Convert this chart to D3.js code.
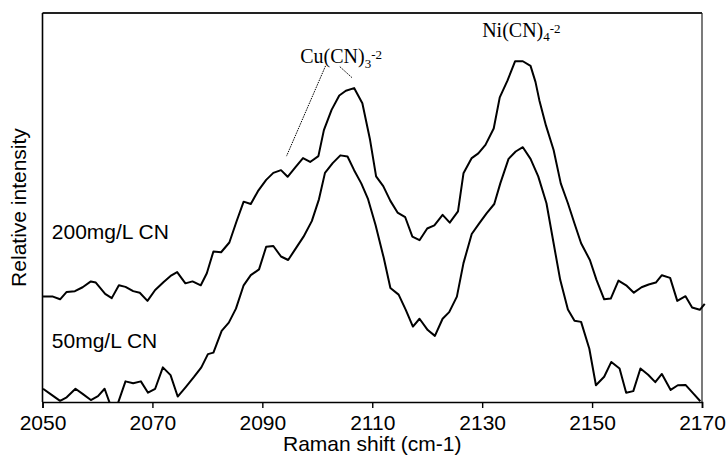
<!DOCTYPE html>
<html>
<head>
<meta charset="utf-8">
<script src="https://cdn.jsdelivr.net/npm/d3@7"></script>
<style>
html,body{margin:0;padding:0;background:#fff;}
svg{display:block;}
</style>
</head>
<body>
<svg id="chart" width="727" height="461"></svg>
<script>
// Raman shift (cm-1) and relative intensity
const shift200 = [2050.1,2051.9,2053.2,2054.4,2055.9,2057.3,2058.8,2059.7,2061.4,2062.6,2063.9,2065.1,2066.5,2067.7,2069.1,2070.5,2072.0,2073.3,2074.5,2076.0,2077.3,2078.8,2079.9,2081.1,2082.5,2084.0,2085.3,2086.6,2087.9,2089.2,2090.7,2092.0,2093.4,2094.6,2096.0,2097.4,2098.7,2100.2,2101.2,2102.6,2104.0,2105.2,2106.7,2108.2,2109.6,2110.7,2112.0,2113.3,2114.6,2116.0,2117.3,2118.6,2120.0,2121.3,2122.8,2124.1,2125.6,2126.6,2128.1,2129.3,2130.6,2132.1,2133.2,2134.6,2136.0,2137.4,2138.8,2139.7,2140.4,2141.6,2143.0,2144.3,2145.6,2146.8,2148.0,2149.6,2150.8,2152.2,2153.4,2154.8,2156.2,2157.6,2159.0,2160.3,2161.6,2162.7,2164.2,2165.5,2167.0,2168.2,2169.6,2170.5];
const int200 = [27.1,27.1,26.4,28.3,28.5,29.5,31.0,30.7,27.8,26.7,30.0,29.6,28.5,28.1,26.0,28.8,30.8,32.4,33.4,30.5,31.0,30.0,33.1,38.7,38.5,41.0,46.4,51.5,50.9,54.2,57.1,58.9,59.6,57.9,60.3,62.7,61.7,63.2,69.9,75.1,78.8,80.0,80.7,76.8,67.4,58.0,55.5,51.7,48.7,47.5,42.5,41.6,44.6,45.4,48.1,46.1,49.0,58.8,62.7,63.9,66.1,70.3,78.3,82.6,87.6,87.6,86.4,82.3,77.6,71.1,64.8,56.2,51.1,45.9,40.8,36.5,31.4,26.4,26.6,31.2,30.0,28.1,29.5,30.2,30.7,32.6,31.9,26.0,27.2,24.3,23.7,25.2];

const shift50 = [2050.1,2051.6,2053.2,2054.4,2056.0,2057.3,2058.8,2060.1,2061.3,2063.0,2065.1,2066.5,2067.9,2069.2,2070.5,2071.9,2073.3,2074.6,2076.1,2077.6,2078.9,2080.1,2081.1,2082.6,2083.9,2085.2,2086.6,2087.9,2089.4,2090.7,2092.0,2093.4,2094.7,2096.0,2097.5,2099.0,2100.3,2101.4,2102.8,2104.2,2105.5,2106.7,2108.0,2109.2,2110.6,2112.1,2113.3,2114.8,2116.1,2117.4,2118.6,2120.1,2121.4,2122.8,2124.0,2125.4,2126.6,2128.1,2129.4,2130.8,2132.2,2133.3,2134.8,2136.1,2137.4,2138.8,2140.2,2141.7,2143.0,2144.2,2145.6,2146.8,2148.0,2149.5,2150.7,2152.2,2153.5,2155.0,2156.2,2157.5,2158.8,2160.2,2161.5,2162.7,2164.3,2165.6,2167.0,2168.4,2169.7];
const int50 = [3.4,1.9,0.3,1.2,3.4,2.1,0.5,1.5,3.4,-3.3,5.3,4.8,5.3,2.4,3.4,8.9,6.9,1.4,3.9,6.5,8.9,12.3,12.7,18.3,20.4,24.0,30.0,32.6,34.1,39.9,40.1,37.4,36.5,39.3,42.5,46.5,52.1,58.9,61.4,63.4,63.1,59.6,56.2,52.3,45.5,37.0,29.3,27.6,23.7,19.4,21.4,18.5,17.0,21.4,23.1,27.1,35.7,43.2,45.8,48.5,50.9,56.2,62.5,64.4,65.5,62.5,58.0,51.1,40.8,31.4,23.8,20.9,20.6,13.7,4.3,6.5,10.3,8.6,2.4,2.8,8.6,7.0,5.1,7.2,3.1,4.3,4.4,2.2,0.2];

const xTicks = [2050,2070,2090,2110,2130,2150,2170];
const xDomain = [2050,2170];
const yDomain = [0,100];

const seriesLabels = ["200mg/L CN","50mg/L CN"];
const seriesLabelPos = [[2051.7,41.8],[2051.7,14.0]];

const xTitle = "Raman shift (cm-1)";
const yTitle = "Relative intensity";

// annotation leader lines (data coords) and label anchors
const cuLeaders = [[[2101.5,86.4],[2094.4,63.2]],[[2104.1,86.2],[2106.3,83.4]]];
const cuLabelPos = [2096.9,87.1];
const niLabelPos = [2130.0,93.9];

const svg = d3.select("#chart");
const L = 42.5, R = 702, T = 13, B = 402;
const x = d3.scaleLinear().domain(xDomain).range([L,R]);
const y = d3.scaleLinear().domain(yDomain).range([B,T]);

const sans = "'Liberation Sans', Arial, Helvetica, sans-serif";
const serif = "'Liberation Serif', 'Times New Roman', serif";

svg.append("defs").append("clipPath").attr("id","clip")
  .append("rect").attr("x",L).attr("y",T).attr("width",R-L+4).attr("height",B-T);

// frame
svg.append("line").attr("x1",L).attr("x2",R).attr("y1",T).attr("y2",T)
  .attr("stroke","#222").attr("stroke-width",2);
svg.append("line").attr("x1",R).attr("x2",R).attr("y1",T).attr("y2",B)
  .attr("stroke","#222").attr("stroke-width",1.2);
svg.append("line").attr("x1",L).attr("x2",L).attr("y1",T).attr("y2",B)
  .attr("stroke","#000").attr("stroke-width",1.6);

// x axis
const xAxis = svg.append("g").attr("transform",`translate(0,${B})`)
  .call(d3.axisBottom(x).tickValues(xTicks).tickFormat(d3.format("d")).tickSize(6).tickPadding(7));
xAxis.select(".domain").attr("stroke","#000").attr("stroke-width",1.6);
xAxis.selectAll(".tick line").attr("stroke","#000").attr("stroke-width",1.4);
xAxis.selectAll(".tick text").attr("font-family",sans).attr("font-size",21).attr("fill","#000");

// lines
const line = d3.line().x(d=>x(d[0])).y(d=>y(d[1]));
const g = svg.append("g").attr("clip-path","url(#clip)");
g.append("path").datum(shift200.map((s,i)=>[s,int200[i]]))
  .attr("d",line).attr("fill","none").attr("stroke","#000").attr("stroke-width",2).attr("stroke-linejoin","round");
g.append("path").datum(shift50.map((s,i)=>[s,int50[i]]))
  .attr("d",line).attr("fill","none").attr("stroke","#000").attr("stroke-width",2).attr("stroke-linejoin","round");

// series labels
svg.selectAll("text.slab").data(seriesLabels).enter().append("text")
  .attr("class","slab")
  .attr("x",(d,i)=>x(seriesLabelPos[i][0])).attr("y",(d,i)=>y(seriesLabelPos[i][1]))
  .attr("font-family",sans).attr("font-size",21).attr("fill","#000").text(d=>d);

// axis titles
svg.append("text").attr("x",(L+R)/2).attr("y",451).attr("text-anchor","middle")
  .attr("font-family",sans).attr("font-size",21).attr("fill","#000").text(xTitle);
svg.append("text").attr("transform",`translate(26,${(T+B)/2}) rotate(-90)`)
  .attr("text-anchor","middle").attr("font-family",sans).attr("font-size",21).attr("fill","#000").text(yTitle);

// leader lines
cuLeaders.forEach(seg=>{
  svg.append("line").attr("x1",x(seg[0][0])).attr("y1",y(seg[0][1]))
    .attr("x2",x(seg[1][0])).attr("y2",y(seg[1][1]))
    .attr("stroke","#000").attr("stroke-width",1).attr("stroke-dasharray","1.5,1");
});

// chemical labels
function chemLabel(pos, main, sub, sup, size){
  const t = svg.append("text").attr("x",x(pos[0])).attr("y",y(pos[1]))
    .attr("font-family",serif).attr("font-size",size).attr("fill","#000");
  t.append("tspan").text(main);
  t.append("tspan").attr("font-size",13).attr("dy",4.5).text(sub);
  t.append("tspan").attr("font-size",13).attr("dy",-8.5).text(sup);
}
chemLabel(cuLabelPos,"Cu(CN)","3","-2",20);
chemLabel(niLabelPos,"Ni(CN)","4","-2",20);
</script>
</body>
</html>
